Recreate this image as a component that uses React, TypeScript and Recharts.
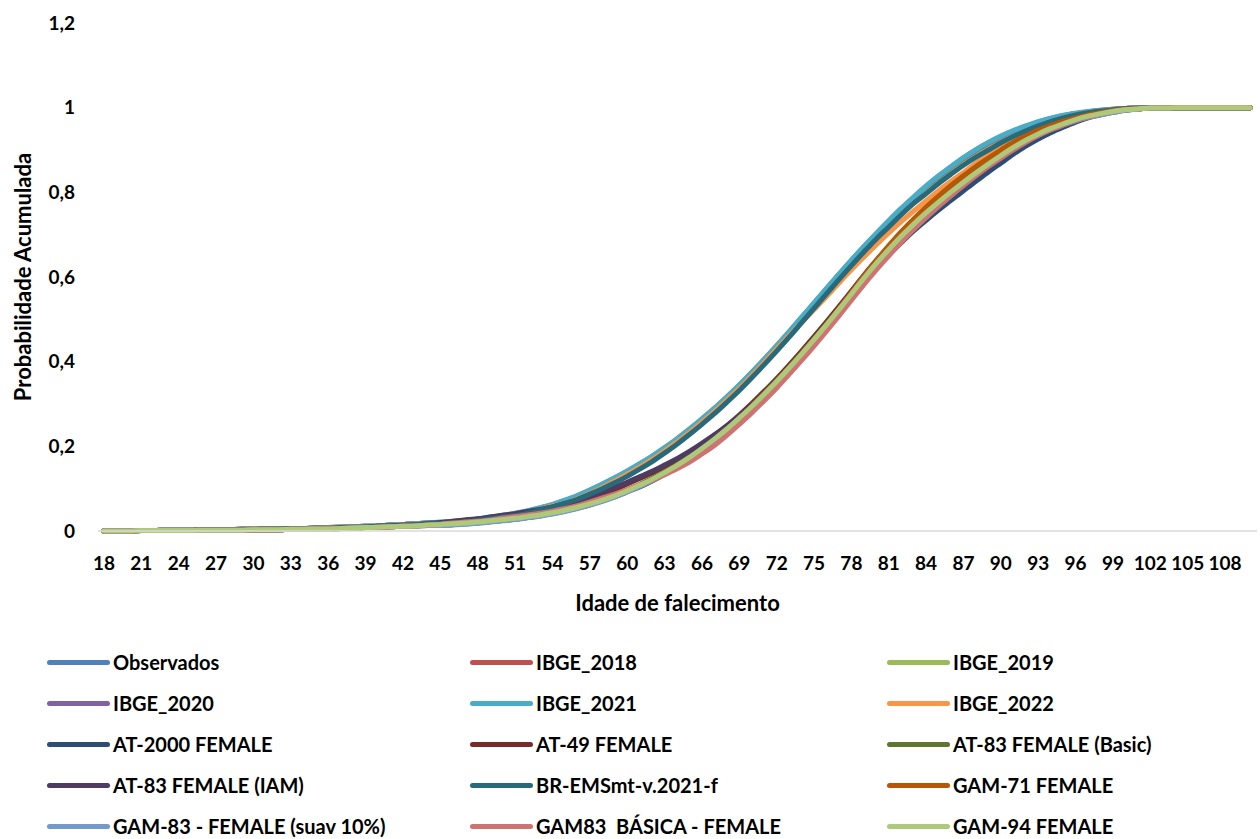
import { LineChart, Line, XAxis, YAxis, Legend } from 'recharts';

// idades (categorias do eixo X)
const AGES = [
  18, 19, 20, 21, 22, 23, 24, 25, 26, 27,
  28, 29, 30, 31, 32, 33, 34, 35, 36, 37,
  38, 39, 40, 41, 42, 43, 44, 45, 46, 47,
  48, 49, 50, 51, 52, 53, 54, 55, 56, 57,
  58, 59, 60, 61, 62, 63, 64, 65, 66, 67,
  68, 69, 70, 71, 72, 73, 74, 75, 76, 77,
  78, 79, 80, 81, 82, 83, 84, 85, 86, 87,
  88, 89, 90, 91, 92, 93, 94, 95, 96, 97,
  98, 99, 100, 101, 102, 103, 104, 105, 106, 107,
  108, 109, 110,
];

// probabilidade acumulada de falecimento por tábua
const OBSERVADOS = [
  0, 0, 0.001, 0.001, 0.001, 0.002, 0.002, 0.002, 0.003, 0.003,
  0.003, 0.004, 0.004, 0.005, 0.005, 0.006, 0.006, 0.007, 0.008, 0.009,
  0.010, 0.011, 0.012, 0.014, 0.015, 0.017, 0.019, 0.019, 0.021, 0.024,
  0.027, 0.031, 0.035, 0.040, 0.046, 0.053, 0.061, 0.071, 0.082, 0.095,
  0.109, 0.124, 0.140, 0.157, 0.175, 0.195, 0.216, 0.239, 0.263, 0.288,
  0.315, 0.343, 0.373, 0.404, 0.436, 0.469, 0.503, 0.537, 0.571, 0.605,
  0.638, 0.670, 0.701, 0.731, 0.760, 0.787, 0.813, 0.837, 0.859, 0.880,
  0.899, 0.916, 0.931, 0.944, 0.955, 0.965, 0.973, 0.980, 0.985, 0.989,
  0.992, 0.995, 0.998, 0.999, 0.999, 1, 1, 1, 1, 1,
  1, 1, 1,
];
const IBGE_2018 = [
  0, 0, 0.001, 0.001, 0.001, 0.002, 0.002, 0.002, 0.003, 0.003,
  0.003, 0.004, 0.004, 0.005, 0.005, 0.006, 0.006, 0.007, 0.008, 0.009,
  0.010, 0.011, 0.012, 0.014, 0.015, 0.017, 0.019, 0.018, 0.020, 0.023,
  0.026, 0.030, 0.034, 0.039, 0.045, 0.052, 0.060, 0.070, 0.081, 0.094,
  0.108, 0.123, 0.139, 0.156, 0.174, 0.194, 0.215, 0.238, 0.262, 0.287,
  0.314, 0.342, 0.372, 0.403, 0.435, 0.468, 0.502, 0.536, 0.570, 0.604,
  0.637, 0.669, 0.700, 0.730, 0.759, 0.786, 0.812, 0.836, 0.858, 0.879,
  0.898, 0.915, 0.930, 0.943, 0.954, 0.964, 0.972, 0.979, 0.984, 0.988,
  0.991, 0.995, 0.998, 0.999, 0.999, 1, 1, 1, 1, 1,
  1, 1, 1,
];
const IBGE_2019 = [
  0, 0, 0.001, 0.001, 0.001, 0.002, 0.002, 0.002, 0.003, 0.003,
  0.003, 0.004, 0.004, 0.005, 0.005, 0.006, 0.006, 0.007, 0.008, 0.009,
  0.010, 0.011, 0.012, 0.014, 0.015, 0.017, 0.019, 0.020, 0.021, 0.024,
  0.027, 0.031, 0.035, 0.038, 0.044, 0.051, 0.059, 0.067, 0.077, 0.089,
  0.102, 0.116, 0.131, 0.148, 0.166, 0.186, 0.207, 0.230, 0.254, 0.279,
  0.306, 0.334, 0.364, 0.395, 0.427, 0.460, 0.494, 0.528, 0.562, 0.596,
  0.629, 0.661, 0.692, 0.720, 0.749, 0.776, 0.799, 0.823, 0.845, 0.866,
  0.885, 0.902, 0.919, 0.934, 0.947, 0.959, 0.969, 0.978, 0.985, 0.990,
  0.994, 0.996, 0.998, 0.999, 0.999, 1, 1, 1, 1, 1,
  1, 1, 1,
];
const IBGE_2020 = [
  0, 0, 0.001, 0.001, 0.001, 0.002, 0.002, 0.002, 0.003, 0.003,
  0.003, 0.004, 0.004, 0.005, 0.005, 0.006, 0.006, 0.007, 0.008, 0.009,
  0.010, 0.011, 0.012, 0.014, 0.015, 0.017, 0.019, 0.020, 0.022, 0.025,
  0.028, 0.032, 0.036, 0.041, 0.047, 0.054, 0.062, 0.072, 0.083, 0.096,
  0.110, 0.125, 0.141, 0.158, 0.176, 0.196, 0.217, 0.240, 0.264, 0.289,
  0.316, 0.344, 0.374, 0.405, 0.437, 0.470, 0.504, 0.538, 0.572, 0.606,
  0.639, 0.671, 0.702, 0.732, 0.761, 0.788, 0.814, 0.838, 0.860, 0.881,
  0.900, 0.917, 0.932, 0.945, 0.956, 0.966, 0.974, 0.981, 0.986, 0.990,
  0.993, 0.996, 0.998, 0.999, 0.999, 1, 1, 1, 1, 1,
  1, 1, 1,
];
const IBGE_2021 = [
  0, 0, 0.001, 0.001, 0.001, 0.002, 0.002, 0.002, 0.003, 0.003,
  0.003, 0.004, 0.004, 0.005, 0.005, 0.006, 0.006, 0.007, 0.008, 0.009,
  0.010, 0.011, 0.012, 0.014, 0.015, 0.017, 0.019, 0.021, 0.023, 0.026,
  0.029, 0.033, 0.037, 0.042, 0.048, 0.055, 0.063, 0.073, 0.084, 0.097,
  0.111, 0.126, 0.142, 0.159, 0.177, 0.197, 0.218, 0.241, 0.265, 0.290,
  0.317, 0.345, 0.375, 0.406, 0.438, 0.471, 0.505, 0.539, 0.573, 0.607,
  0.640, 0.672, 0.703, 0.733, 0.762, 0.789, 0.815, 0.839, 0.861, 0.882,
  0.901, 0.918, 0.933, 0.946, 0.957, 0.967, 0.975, 0.982, 0.987, 0.991,
  0.994, 0.996, 0.998, 0.999, 0.999, 1, 1, 1, 1, 1,
  1, 1, 1,
];
const IBGE_2022 = [
  0, 0, 0.001, 0.001, 0.001, 0.002, 0.002, 0.002, 0.003, 0.003,
  0.003, 0.004, 0.004, 0.005, 0.005, 0.006, 0.006, 0.007, 0.008, 0.009,
  0.009, 0.010, 0.011, 0.013, 0.014, 0.016, 0.018, 0.019, 0.021, 0.024,
  0.027, 0.031, 0.033, 0.038, 0.044, 0.051, 0.059, 0.065, 0.076, 0.089,
  0.103, 0.118, 0.134, 0.151, 0.169, 0.189, 0.210, 0.233, 0.257, 0.282,
  0.309, 0.337, 0.367, 0.398, 0.430, 0.461, 0.492, 0.523, 0.554, 0.586,
  0.617, 0.647, 0.676, 0.704, 0.731, 0.756, 0.780, 0.804, 0.826, 0.847,
  0.869, 0.890, 0.909, 0.926, 0.941, 0.954, 0.965, 0.975, 0.982, 0.988,
  0.992, 0.995, 0.998, 0.999, 0.999, 1, 1, 1, 1, 1,
  1, 1, 1,
];
const AT_2000_F = [
  0, 0, 0, 0.001, 0.001, 0.001, 0.001, 0.001, 0.002, 0.002,
  0.002, 0.002, 0.003, 0.003, 0.003, 0.004, 0.004, 0.005, 0.005, 0.006,
  0.007, 0.008, 0.009, 0.010, 0.011, 0.012, 0.013, 0.014, 0.015, 0.017,
  0.019, 0.022, 0.025, 0.028, 0.032, 0.036, 0.041, 0.047, 0.054, 0.062,
  0.071, 0.081, 0.093, 0.104, 0.118, 0.134, 0.151, 0.165, 0.186, 0.208,
  0.232, 0.258, 0.285, 0.314, 0.344, 0.376, 0.409, 0.443, 0.478, 0.514,
  0.550, 0.586, 0.620, 0.652, 0.681, 0.709, 0.734, 0.758, 0.781, 0.804,
  0.826, 0.848, 0.869, 0.890, 0.909, 0.926, 0.941, 0.954, 0.966, 0.976,
  0.983, 0.989, 0.994, 0.997, 0.999, 0.999, 1, 1, 1, 1,
  1, 1, 1,
];
const AT_49_F = [
  0, 0, 0, 0.001, 0.001, 0.001, 0.001, 0.001, 0.002, 0.002,
  0.002, 0.002, 0.003, 0.003, 0.003, 0.004, 0.004, 0.005, 0.005, 0.006,
  0.007, 0.008, 0.009, 0.010, 0.011, 0.012, 0.014, 0.016, 0.018, 0.021,
  0.024, 0.029, 0.033, 0.037, 0.042, 0.048, 0.054, 0.061, 0.069, 0.078,
  0.088, 0.098, 0.111, 0.124, 0.137, 0.152, 0.168, 0.186, 0.205, 0.226,
  0.249, 0.274, 0.301, 0.330, 0.360, 0.392, 0.425, 0.459, 0.494, 0.530,
  0.567, 0.604, 0.639, 0.671, 0.701, 0.729, 0.756, 0.781, 0.805, 0.828,
  0.850, 0.871, 0.891, 0.910, 0.927, 0.941, 0.954, 0.965, 0.975, 0.981,
  0.987, 0.992, 0.995, 0.997, 0.999, 0.999, 1, 1, 1, 1,
  1, 1, 1,
];
const AT_83_BASIC_F = [
  0, 0, 0, 0.001, 0.001, 0.001, 0.001, 0.001, 0.002, 0.002,
  0.002, 0.002, 0.003, 0.003, 0.003, 0.004, 0.004, 0.005, 0.005, 0.006,
  0.007, 0.008, 0.011, 0.012, 0.013, 0.014, 0.016, 0.017, 0.019, 0.021,
  0.023, 0.026, 0.029, 0.032, 0.036, 0.040, 0.045, 0.051, 0.058, 0.066,
  0.075, 0.085, 0.097, 0.110, 0.124, 0.140, 0.157, 0.176, 0.197, 0.219,
  0.243, 0.269, 0.296, 0.325, 0.355, 0.387, 0.420, 0.454, 0.489, 0.525,
  0.562, 0.599, 0.634, 0.667, 0.698, 0.727, 0.754, 0.779, 0.803, 0.826,
  0.848, 0.869, 0.889, 0.908, 0.925, 0.940, 0.953, 0.964, 0.974, 0.982,
  0.988, 0.992, 0.995, 0.997, 0.999, 0.999, 1, 1, 1, 1,
  1, 1, 1,
];
const AT_83_IAM_F = [
  0, 0, 0, 0.001, 0.001, 0.001, 0.001, 0.001, 0.002, 0.002,
  0.002, 0.002, 0.003, 0.003, 0.003, 0.004, 0.004, 0.005, 0.005, 0.006,
  0.007, 0.008, 0.011, 0.012, 0.014, 0.015, 0.018, 0.020, 0.023, 0.026,
  0.029, 0.033, 0.037, 0.041, 0.046, 0.051, 0.057, 0.065, 0.073, 0.082,
  0.092, 0.103, 0.115, 0.128, 0.141, 0.156, 0.171, 0.188, 0.207, 0.227,
  0.248, 0.271, 0.296, 0.323, 0.351, 0.381, 0.412, 0.446, 0.481, 0.517,
  0.554, 0.591, 0.626, 0.659, 0.690, 0.717, 0.744, 0.769, 0.793, 0.816,
  0.838, 0.859, 0.880, 0.900, 0.918, 0.934, 0.948, 0.960, 0.970, 0.979,
  0.986, 0.991, 0.995, 0.997, 0.999, 0.999, 1, 1, 1, 1,
  1, 1, 1,
];
const BR_EMS_F = [
  0, 0, 0.001, 0.001, 0.001, 0.002, 0.002, 0.002, 0.003, 0.003,
  0.003, 0.004, 0.004, 0.005, 0.005, 0.006, 0.006, 0.007, 0.007, 0.008,
  0.009, 0.010, 0.011, 0.012, 0.013, 0.015, 0.017, 0.018, 0.019, 0.022,
  0.025, 0.029, 0.033, 0.036, 0.042, 0.049, 0.057, 0.065, 0.075, 0.087,
  0.100, 0.114, 0.129, 0.146, 0.164, 0.184, 0.205, 0.228, 0.252, 0.277,
  0.304, 0.332, 0.362, 0.393, 0.425, 0.458, 0.492, 0.526, 0.560, 0.594,
  0.627, 0.659, 0.690, 0.718, 0.747, 0.774, 0.797, 0.821, 0.843, 0.864,
  0.883, 0.900, 0.917, 0.932, 0.945, 0.957, 0.967, 0.976, 0.983, 0.988,
  0.992, 0.995, 0.998, 0.999, 0.999, 1, 1, 1, 1, 1,
  1, 1, 1,
];
const GAM_71_F = [
  0, 0, 0, 0.001, 0.001, 0.001, 0.001, 0.001, 0.002, 0.002,
  0.002, 0.002, 0.003, 0.003, 0.003, 0.004, 0.004, 0.005, 0.005, 0.006,
  0.007, 0.008, 0.009, 0.010, 0.011, 0.012, 0.014, 0.015, 0.017, 0.019,
  0.021, 0.023, 0.025, 0.028, 0.032, 0.036, 0.041, 0.047, 0.054, 0.062,
  0.071, 0.081, 0.093, 0.106, 0.120, 0.136, 0.153, 0.172, 0.193, 0.215,
  0.239, 0.265, 0.292, 0.322, 0.353, 0.385, 0.418, 0.452, 0.487, 0.525,
  0.563, 0.602, 0.639, 0.674, 0.707, 0.737, 0.765, 0.791, 0.816, 0.839,
  0.861, 0.881, 0.900, 0.918, 0.933, 0.947, 0.958, 0.968, 0.976, 0.983,
  0.988, 0.993, 0.996, 0.997, 0.999, 0.999, 1, 1, 1, 1,
  1, 1, 1,
];
const GAM_83_SUAV_F = [
  0, 0, 0, 0.001, 0.001, 0.001, 0.001, 0.001, 0.002, 0.002,
  0.002, 0.002, 0.003, 0.003, 0.003, 0.004, 0.004, 0.005, 0.005, 0.006,
  0.007, 0.008, 0.009, 0.010, 0.011, 0.012, 0.013, 0.013, 0.014, 0.016,
  0.018, 0.021, 0.024, 0.027, 0.031, 0.035, 0.040, 0.046, 0.053, 0.061,
  0.070, 0.080, 0.092, 0.105, 0.119, 0.135, 0.152, 0.171, 0.192, 0.214,
  0.238, 0.264, 0.291, 0.320, 0.350, 0.382, 0.415, 0.449, 0.484, 0.520,
  0.557, 0.594, 0.629, 0.662, 0.693, 0.722, 0.749, 0.774, 0.798, 0.821,
  0.843, 0.864, 0.884, 0.903, 0.920, 0.935, 0.948, 0.959, 0.969, 0.977,
  0.983, 0.989, 0.994, 0.997, 0.999, 0.999, 1, 1, 1, 1,
  1, 1, 1,
];
const GAM_83_BASICA_F = [
  0, 0, 0, 0.001, 0.001, 0.001, 0.001, 0.001, 0.002, 0.002,
  0.002, 0.002, 0.003, 0.003, 0.003, 0.004, 0.004, 0.005, 0.005, 0.006,
  0.007, 0.008, 0.009, 0.010, 0.011, 0.012, 0.014, 0.016, 0.019, 0.021,
  0.023, 0.026, 0.031, 0.034, 0.038, 0.042, 0.047, 0.053, 0.060, 0.069,
  0.078, 0.087, 0.098, 0.109, 0.120, 0.133, 0.147, 0.163, 0.182, 0.202,
  0.226, 0.252, 0.279, 0.308, 0.338, 0.370, 0.403, 0.437, 0.472, 0.508,
  0.545, 0.582, 0.617, 0.650, 0.682, 0.712, 0.740, 0.767, 0.792, 0.816,
  0.839, 0.861, 0.881, 0.900, 0.918, 0.934, 0.948, 0.959, 0.970, 0.978,
  0.985, 0.991, 0.995, 0.997, 0.999, 0.999, 1, 1, 1, 1,
  1, 1, 1,
];
const GAM_94_F = [
  0, 0, 0, 0.001, 0.001, 0.001, 0.001, 0.001, 0.002, 0.002,
  0.002, 0.002, 0.003, 0.003, 0.003, 0.004, 0.004, 0.005, 0.005, 0.006,
  0.007, 0.008, 0.009, 0.010, 0.011, 0.012, 0.014, 0.015, 0.017, 0.019,
  0.021, 0.024, 0.027, 0.030, 0.034, 0.038, 0.043, 0.049, 0.056, 0.064,
  0.073, 0.083, 0.095, 0.108, 0.122, 0.138, 0.155, 0.174, 0.195, 0.217,
  0.241, 0.267, 0.294, 0.323, 0.353, 0.385, 0.418, 0.452, 0.487, 0.523,
  0.560, 0.597, 0.632, 0.665, 0.696, 0.725, 0.752, 0.777, 0.801, 0.824,
  0.846, 0.867, 0.887, 0.906, 0.923, 0.938, 0.951, 0.962, 0.972, 0.980,
  0.986, 0.991, 0.995, 0.997, 0.999, 0.999, 1, 1, 1, 1,
  1, 1, 1,
];

const SERIES = [
  { key: 'obs', name: 'Observados', color: '#4F81BD', values: OBSERVADOS },
  { key: 'ibge2018', name: 'IBGE_2018', color: '#C0504D', values: IBGE_2018 },
  { key: 'ibge2019', name: 'IBGE_2019', color: '#9BBB59', values: IBGE_2019 },
  { key: 'ibge2020', name: 'IBGE_2020', color: '#8064A2', values: IBGE_2020 },
  { key: 'ibge2021', name: 'IBGE_2021', color: '#4BACC6', values: IBGE_2021 },
  { key: 'ibge2022', name: 'IBGE_2022', color: '#F79646', values: IBGE_2022 },
  { key: 'at2000', name: 'AT-2000 FEMALE', color: '#2C4D75', values: AT_2000_F },
  { key: 'at49', name: 'AT-49 FEMALE', color: '#772C2A', values: AT_49_F },
  { key: 'at83b', name: 'AT-83 FEMALE (Basic)', color: '#5F7530', values: AT_83_BASIC_F },
  { key: 'at83i', name: 'AT-83 FEMALE (IAM)', color: '#4D3B62', values: AT_83_IAM_F },
  { key: 'brems', name: 'BR-EMSmt-v.2021-f', color: '#276A7C', values: BR_EMS_F },
  { key: 'gam71', name: 'GAM-71 FEMALE', color: '#B65708', values: GAM_71_F },
  { key: 'gam83s', name: 'GAM-83 - FEMALE (suav 10%)', color: '#729ACA', values: GAM_83_SUAV_F },
  { key: 'gam83b', name: 'GAM83  BÁSICA - FEMALE', color: '#CD7371', values: GAM_83_BASICA_F },
  { key: 'gam94', name: 'GAM-94 FEMALE', color: '#AFC97A', values: GAM_94_F },
];

const Y_TICKS = [0, 0.2, 0.4, 0.6, 0.8, 1, 1.2];
const FONT = 'Lato, "Open Sans", sans-serif';

const data = AGES.map((age, i) => {
  const row: Record<string, number> = { age };
  SERIES.forEach((s) => {
    row[s.key] = s.values[i];
  });
  return row;
});

const LEGEND_COLS = [47, 470, 887];

function ChartLegend() {
  return (
    <div style={{ position: 'relative', height: 223, fontFamily: FONT }}>
      {SERIES.map((s, i) => (
        <div
          key={s.key}
          style={{
            position: 'absolute',
            left: LEGEND_COLS[i % 3],
            top: 25 + Math.floor(i / 3) * 41,
            height: 42,
            display: 'flex',
            alignItems: 'center',
          }}
        >
          <span style={{ display: 'inline-block', width: 63, height: 5, borderRadius: 3, background: s.color }} />
          <span style={{ marginLeft: 3, fontSize: 20, fontWeight: 700, color: '#000', whiteSpace: 'pre' }}>
            {s.name}
          </span>
        </div>
      ))}
    </div>
  );
}

function YTitle(props: any) {
  const { viewBox } = props;
  const cx = viewBox.x + 22;
  const cy = viewBox.y + viewBox.height / 2;
  return (
    <text
      x={cx}
      y={cy}
      transform={`rotate(-90 ${cx} ${cy})`}
      textAnchor="middle"
      dominantBaseline="central"
      fontFamily={FONT}
      fontSize={22}
      fontWeight={700}
      fill="#000"
    >
      Probabilidade Acumulada
    </text>
  );
}

function XTitle(props: any) {
  const { viewBox } = props;
  return (
    <text
      x={viewBox.x + viewBox.width / 2}
      y={viewBox.y + 71}
      textAnchor="middle"
      dominantBaseline="central"
      fontFamily={FONT}
      fontSize={22}
      fontWeight={700}
      fill="#000"
    >
      Idade de falecimento
    </text>
  );
}

export default function App() {
  const tickStyle = { fill: '#000', fontSize: 19, fontWeight: 700, fontFamily: FONT };
  return (
    <div style={{ position: 'absolute', left: 0, top: 0, width: 1260, height: 839, background: '#fff' }}>
      <LineChart width={1260} height={839} data={data} margin={{ top: 23, right: 3, bottom: 0, left: 0 }}>
        <XAxis
          dataKey="age"
          interval={2}
          height={85}
          padding={{ left: 6, right: 7 }}
          tickLine={false}
          tickSize={0}
          tickMargin={26}
          tick={tickStyle}
          axisLine={{ stroke: '#D9D9D9', strokeWidth: 1.5 }}
          label={<XTitle />}
        />
        <YAxis
          width={98}
          domain={[0, 1.2]}
          ticks={Y_TICKS}
          tickFormatter={(v: number) => String(v).replace('.', ',')}
          axisLine={false}
          tickLine={false}
          tickSize={0}
          tickMargin={23}
          tick={tickStyle}
          label={<YTitle />}
        />
        <Legend verticalAlign="bottom" content={() => <ChartLegend />} />
        {SERIES.map((s) => (
          <Line
            key={s.key}
            type="monotone"
            dataKey={s.key}
            name={s.name}
            stroke={s.color}
            strokeWidth={5}
            strokeLinecap="round"
            dot={false}
            activeDot={false}
            isAnimationActive={false}
          />
        ))}
      </LineChart>
    </div>
  );
}
